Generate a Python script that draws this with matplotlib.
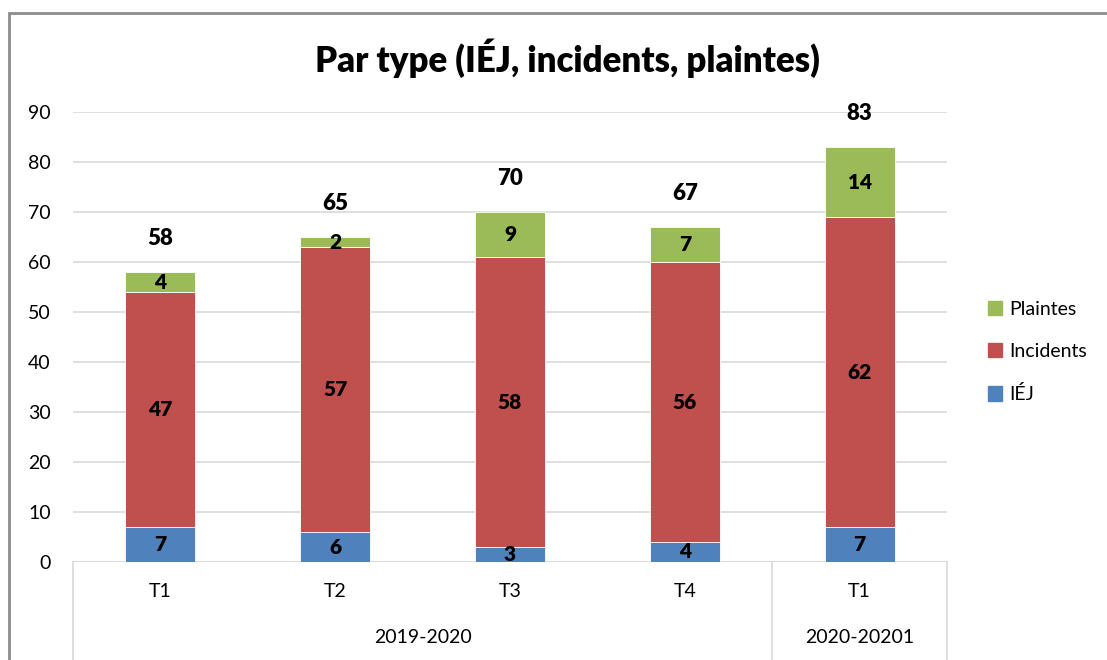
import matplotlib.pyplot as plt
from matplotlib.patches import Rectangle
from matplotlib.lines import Line2D

# data
quarters = ["T1", "T2", "T3", "T4", "T1"]
years = ["2019-2020", "2020-20201"]
year_sizes = [4, 1]
iej = [7, 6, 3, 4, 7]
incidents = [47, 57, 58, 56, 62]
plaintes = [4, 2, 9, 7, 14]

colors = {"IÉJ": "#4F81BD", "Incidents": "#C0504D", "Plaintes": "#9BBB59"}
grid_col = "#D9D9D9"

plt.rcParams["font.family"] = ["Lato", "DejaVu Sans"]

fig = plt.figure(figsize=(11.07, 6.6), dpi=100)
W, H = 1107, 660
ax = fig.add_axes([73 / W, 1 - 562 / H, (947 - 73) / W, (562 - 112) / H])

x = list(range(len(quarters)))
series = [("IÉJ", iej), ("Incidents", incidents), ("Plaintes", plaintes)]
bottom = [0] * len(x)
for name, vals in series:
    bars = ax.bar(x, vals, 0.4, bottom=bottom, color=colors[name],
                  edgecolor="white", linewidth=0.6, zorder=3)
    for xi, b, v in zip(x, bottom, vals):
        ax.text(xi, b + v / 2, str(v), ha="center", va="center",
                fontsize=15, fontweight="heavy", zorder=4)
    bottom = [b + v for b, v in zip(bottom, vals)]

# totals
for xi, tot in zip(x, bottom):
    ax.annotate(str(tot), (xi, tot), xytext=(0, 24), textcoords="offset points",
                ha="center", va="center", fontsize=16, fontweight="heavy")

ax.set_xlim(-0.5, len(x) - 0.5)
ax.set_ylim(0, 90)
ax.set_yticks(range(0, 91, 10))
ax.yaxis.grid(True, color=grid_col, linewidth=1.2, zorder=0)
ax.set_axisbelow(True)
for s in ax.spines.values():
    s.set_visible(False)
ax.tick_params(axis="y", length=0, pad=16, labelsize=14)
ax.set_xticks([])

# multi-level category axis
ax.axhline(0, color=grid_col, linewidth=1.2, zorder=2)
trans = ax.get_xaxis_transform()
for xi, q in zip(x, quarters):
    ax.text(xi, -0.066, q, transform=trans, ha="center", va="center", fontsize=14)
edges = [-0.5]
for n in year_sizes:
    edges.append(edges[-1] + n)
for e in edges:
    ax.add_line(Line2D([e, e], [0, -0.25], transform=trans, color=grid_col,
                       linewidth=1.2, clip_on=False))
for i, yl in enumerate(years):
    mid = (edges[i] + edges[i + 1]) / 2
    ax.text(mid, -0.168, yl, transform=trans, ha="center", va="center", fontsize=14)

fig.text(567 / W, 1 - 58 / H, "Par type (IÉJ, incidents, plaintes)", fontsize=25,
         fontweight="heavy", ha="center", va="center")

# legend
handles = [Rectangle((0, 0), 1, 1, color=colors[n]) for n in ["Plaintes", "Incidents", "IÉJ"]]
fig.legend(handles, ["Plaintes", "Incidents", "IÉJ"], loc="center left",
           bbox_to_anchor=(970 / W, 1 - 352 / H), frameon=False, fontsize=14,
           handlelength=0.75, handleheight=0.75, handletextpad=0.35, labelspacing=1.3)

# chart border (only top and left visible)
fig.add_artist(Rectangle((9 / W, -0.05), 1.1, 1 - 13 / H + 0.05,
                         transform=fig.transFigure, fill=False,
                         edgecolor="#8C8C8C", linewidth=2))

plt.savefig("out.png", dpi=100)
